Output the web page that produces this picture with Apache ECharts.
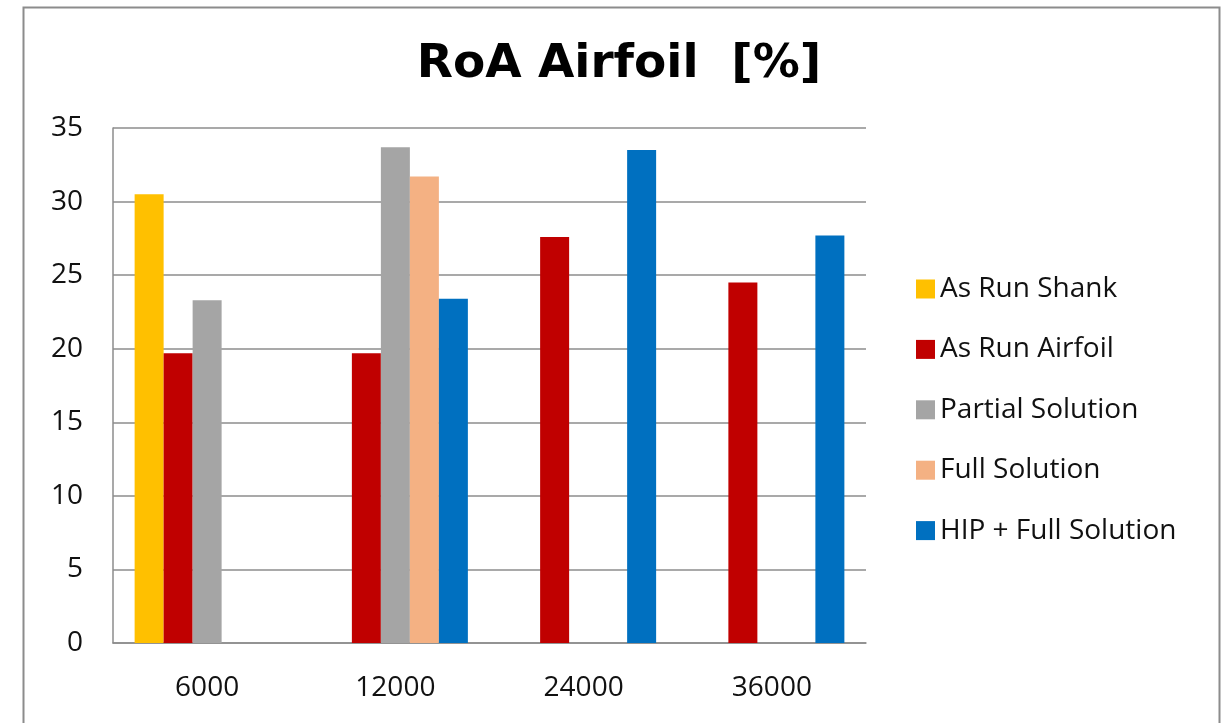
<!DOCTYPE html>
<html>
<head>
<meta charset="utf-8">
<script src="https://cdn.jsdelivr.net/npm/echarts@6/dist/echarts.min.js"></script>
<style>
  html, body { margin: 0; padding: 0; background: #ffffff; }
  #chart { width: 1223px; height: 723px; }
</style>
</head>
<body>
<div id="chart"></div>
<script>
// Exposure times on the x axis
const categories = ['6000', '12000', '24000', '36000'];

// Reduction of area per condition, percent (null = not tested)
const asRunShank      = [30.5, null, null, null];
const asRunAirfoil    = [19.7, 19.7, 27.6, 24.5];
const partialSolution = [23.3, 33.7, null, null];
const fullSolution    = [null, 31.7, null, null];
const hipFullSolution = [null, 23.4, 33.5, 27.7];

const seriesNames = ['As Run Shank', 'As Run Airfoil', 'Partial Solution', 'Full Solution', 'HIP + Full Solution'];
const seriesData = [asRunShank, asRunAirfoil, partialSolution, fullSolution, hipFullSolution];
const seriesColors = ['#FFC000', '#C00000', '#A5A5A5', '#F4B183', '#0070C0'];

const yTicks = { min: 0, max: 35, interval: 5 };

const labelFont = '"Open Sans", "Liberation Sans", sans-serif';

const chart = echarts.init(document.getElementById('chart'), null, { renderer: 'canvas' });

chart.setOption({
  animation: false,
  backgroundColor: '#ffffff',
  title: {
    text: 'RoA Airfoil  [%]',
    left: 614,
    top: 36,
    textAlign: 'center',
    textStyle: {
      fontFamily: '"DejaVu Sans", Verdana, sans-serif',
      fontWeight: 'bold',
      fontSize: 47,
      color: '#000000'
    }
  },
  legend: {
    orient: 'vertical',
    left: 911,
    top: 270,
    itemWidth: 19,
    itemHeight: 19,
    itemGap: 32.4,
    icon: 'rect',
    data: seriesNames,
    textStyle: {
      fontFamily: labelFont,
      fontSize: 28,
      color: '#111111',
      padding: [0, 0, 0, 0]
    }
  },
  grid: {
    left: 113,
    right: 357,
    top: 128,
    bottom: 80,
    containLabel: false
  },
  xAxis: {
    type: 'category',
    data: categories,
    axisLine: { show: true, lineStyle: { color: '#8c8c8c', width: 1.5 } },
    axisTick: { show: false },
    axisLabel: {
      margin: 31,
      fontFamily: labelFont,
      fontSize: 28,
      color: '#111111'
    },
    splitLine: { show: false }
  },
  yAxis: {
    type: 'value',
    min: yTicks.min,
    max: yTicks.max,
    interval: yTicks.interval,
    axisLine: { show: true, lineStyle: { color: '#8c8c8c', width: 1.5 } },
    axisTick: { show: false },
    axisLabel: {
      margin: 30,
      fontFamily: labelFont,
      fontSize: 28,
      color: '#111111'
    },
    splitLine: { show: true, lineStyle: { color: '#8c8c8c', width: 1.5 } }
  },
  series: seriesNames.map((name, i) => ({
    name: name,
    type: 'bar',
    data: seriesData[i],
    barWidth: 29,
    barGap: '0%',
    itemStyle: { color: seriesColors[i] }
  })),
  graphic: [{
    type: 'rect',
    left: 21,
    top: 5,
    shape: { width: 1196, height: 740 },
    style: { fill: null, stroke: '#8c8c8c', lineWidth: 2 },
    silent: true
  }]
});
</script>
</body>
</html>
